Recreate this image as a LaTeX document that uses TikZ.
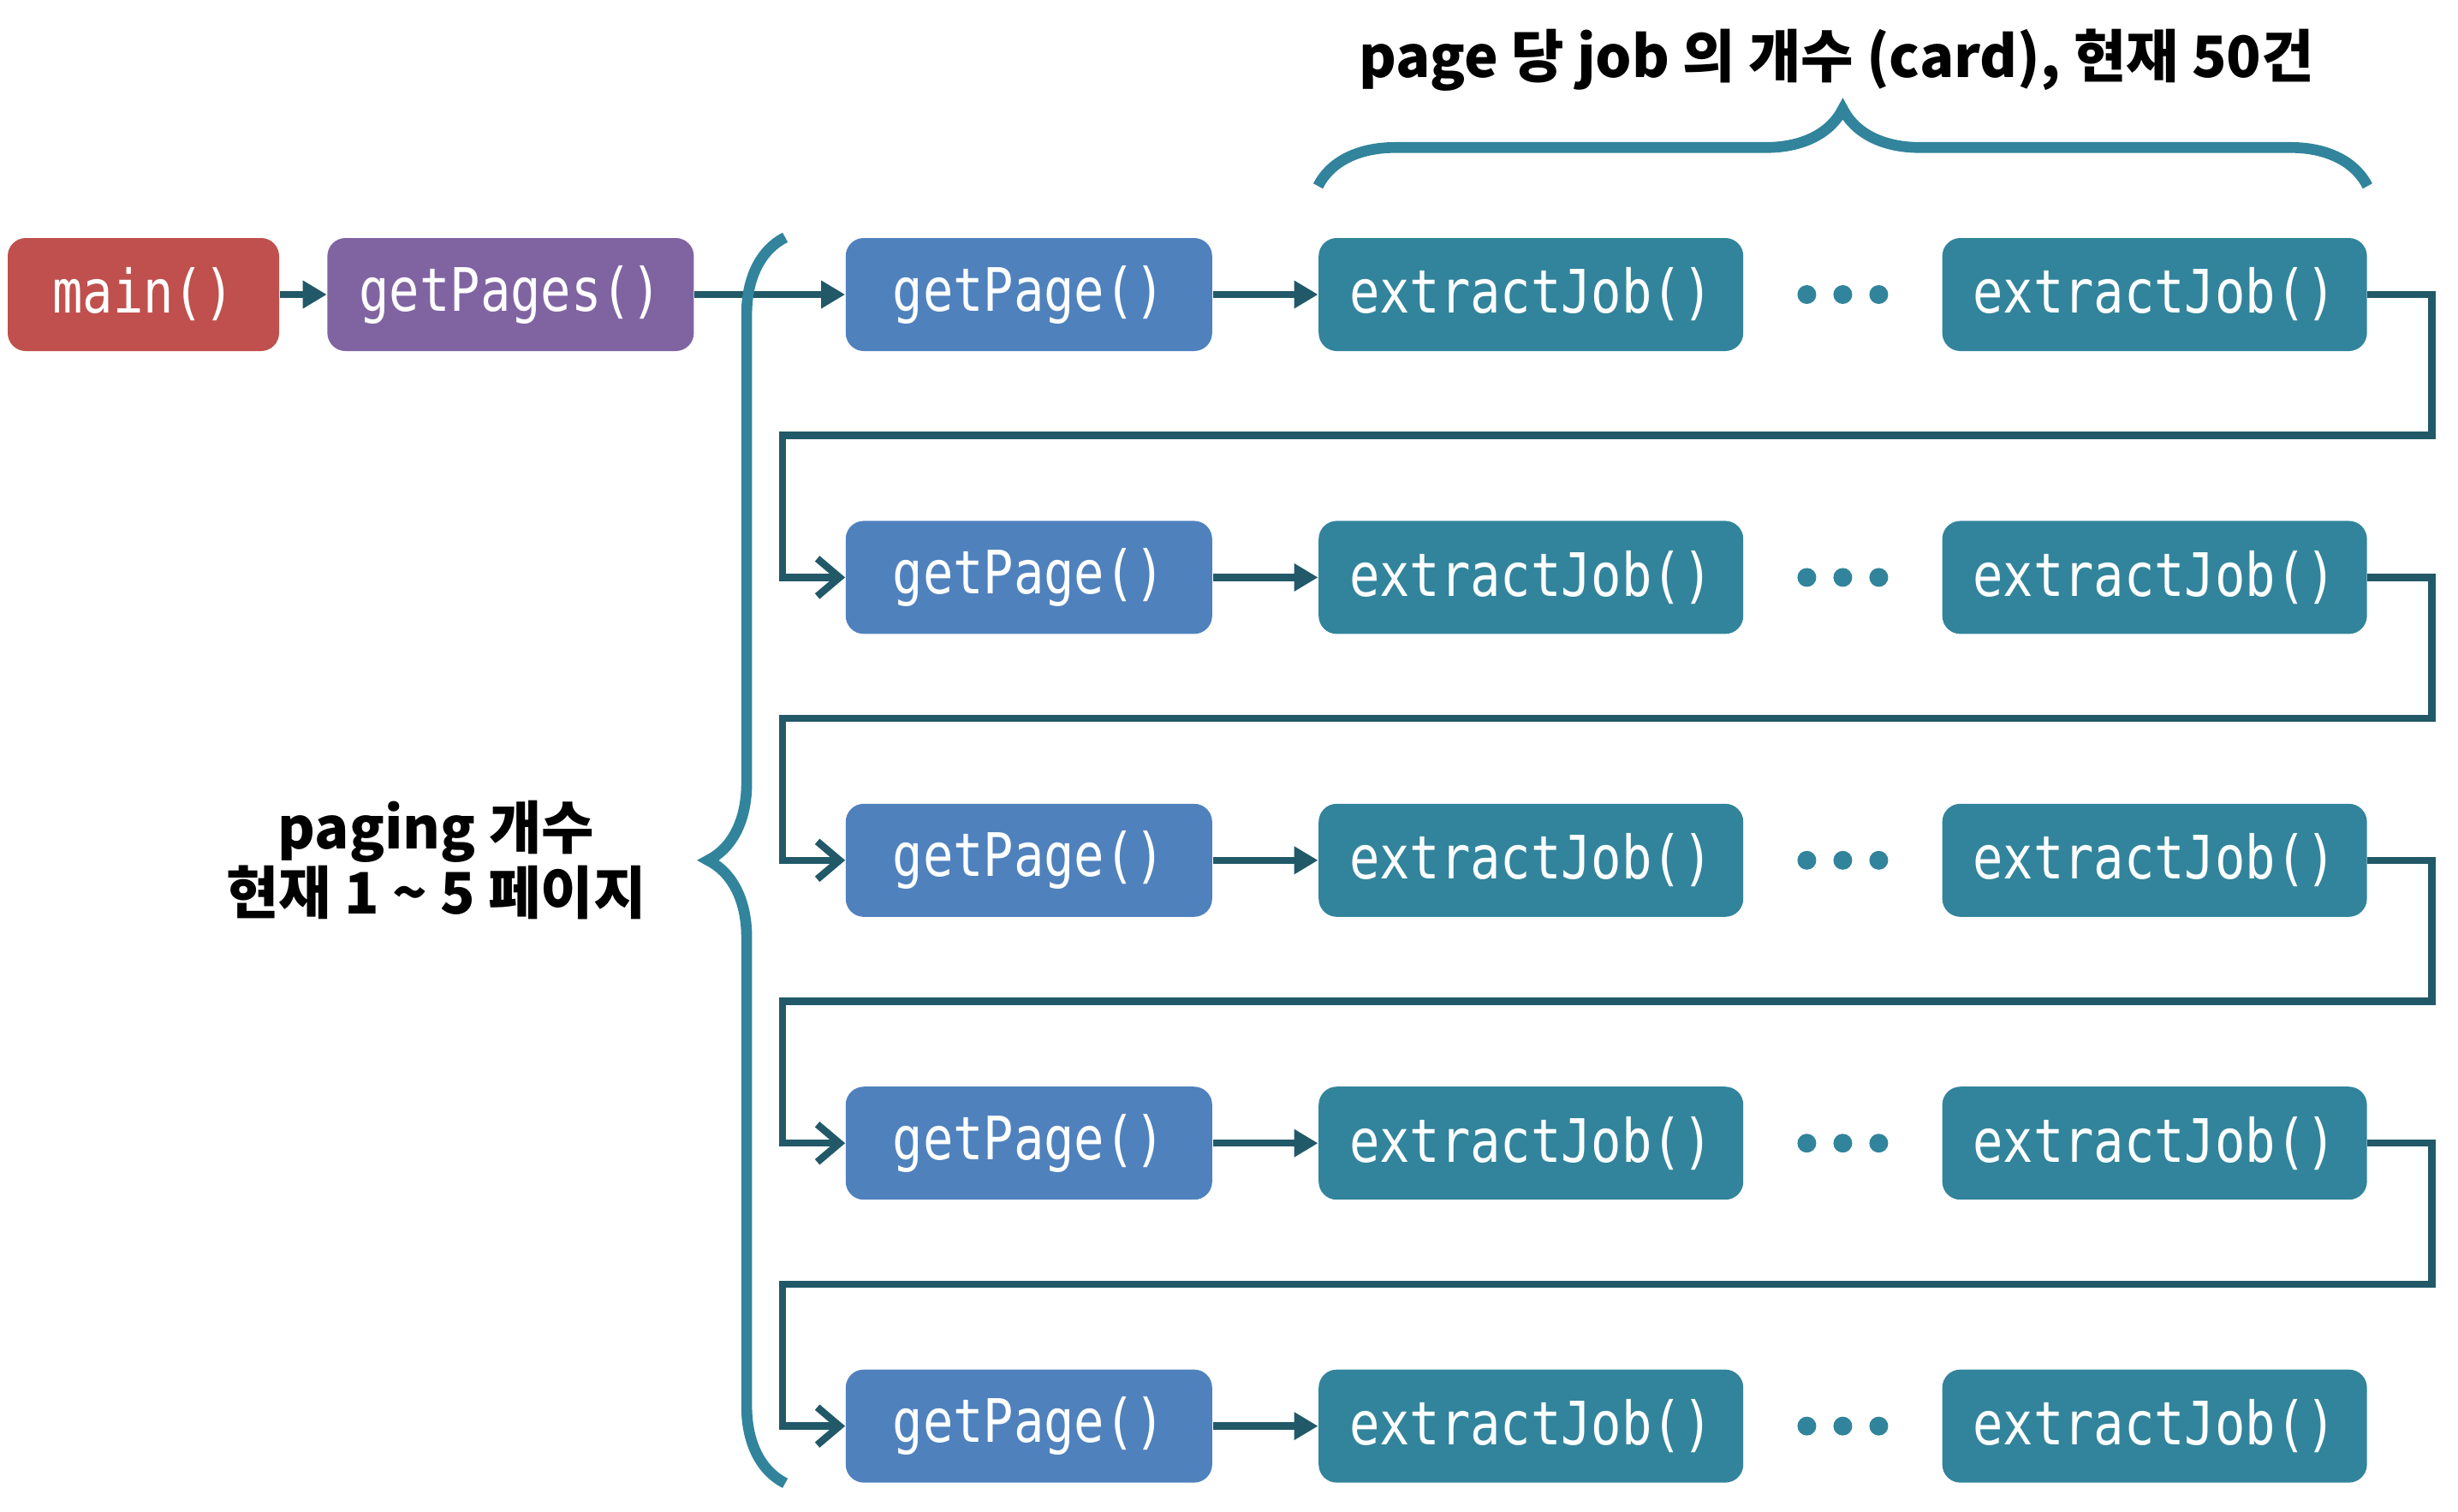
\documentclass[tikz,border=0pt]{standalone}
\usepackage{fontspec}
\setmonofont{DejaVu Sans Mono}[FakeStretch=0.84]
\newfontfamily\krfont{Noto Sans CJK KR}
\usepackage{xcolor}
\usetikzlibrary{positioning, calc, arrows.meta, decorations.pathreplacing}

\definecolor{mainred}{HTML}{C0504D}
\definecolor{pagespurple}{HTML}{8064A2}
\definecolor{pageblue}{HTML}{4F81BD}
\definecolor{jobteal}{HTML}{31849B}
\definecolor{linkteal}{HTML}{215968}

\begin{document}
\begin{tikzpicture}[
    func/.style={rectangle, rounded corners=6pt, minimum height=1.32cm, inner sep=0pt,
        text=white, font=\ttfamily\fontsize{19.9}{22}\selectfont},
    link/.style={draw=linkteal, line width=2.4pt, -{Triangle[length=2.8mm,width=3.1mm]}},
    back/.style={draw=linkteal, line width=2.4pt, -{Straight Barb[length=2.6mm,width=4.4mm]}},
    bracket/.style={draw=jobteal, line width=3.6pt, decorate, decoration={brace, amplitude=0.9cm}},
    note/.style={font=\krfont\bfseries\fontsize{19}{20}\selectfont, align=center}]
    \useasboundingbox (0,0) rectangle (28.71,-17.66);

    \node (main) [func, fill=mainred, minimum width=3.17cm] at (1.675,-3.44) {main()};
    \node (pages) [func, fill=pagespurple, minimum width=4.28cm, right=0.55cm of main] {getPages()};
    \node (page1) [func, fill=pageblue, minimum width=4.28cm, right=1.76cm of pages] {getPage()};
    \node (jobA1) [func, fill=jobteal, minimum width=4.96cm, right=1.23cm of page1] {extractJob()};
    \node (jobB1) [func, fill=jobteal, minimum width=4.96cm, right=2.31cm of jobA1] {extractJob()};
    \foreach \i [remember=\i as \prev (initially 1)] in {2,...,5} {
        \node (page\i) [func, fill=pageblue, minimum width=4.28cm, below=1.97cm of page\prev] {getPage()};
        \node (jobA\i) [func, fill=jobteal, minimum width=4.96cm, right=1.23cm of page\i] {extractJob()};
        \node (jobB\i) [func, fill=jobteal, minimum width=4.96cm, right=2.31cm of jobA\i] {extractJob()};
    }

    \node (cardnote) [note] at (21.45,-0.70) {page 당 job 의 개수 (card), 현재 50건};
    \node (pagingnote) [note, left=2.2cm of page3] {paging 개수\\현재 1 \textasciitilde{} 5 페이지};

    \draw[link] (main) -- (pages);
    \draw[link] (pages) -- (page1);
    \foreach \i in {1,...,5} {
        \draw[link] (page\i) -- (jobA\i);
        \coordinate (dots\i) at ($(jobA\i.east)!0.5!(jobB\i.west)$);
        \foreach \dx in {-0.42,0,0.42}
            \fill[jobteal] ([xshift=\dx cm]dots\i) circle (0.11);
    }
    % back to the next page
    \foreach \i [evaluate=\i as \n using int(\i+1)] in {1,...,4}
        \draw[back] (jobB\i.east) -- ++(0.75,0) -- ++(0,-1.645) -| ([xshift=-7.3mm]page\n.west) -- (page\n.west);

    \draw[bracket] ([xshift=-7mm]page5.south west) -- ([xshift=-7mm]page1.north west);
    \draw[bracket] ([yshift=6mm]jobA1.north west) -- ([yshift=6mm]jobB1.north east);
\end{tikzpicture}
\end{document}
